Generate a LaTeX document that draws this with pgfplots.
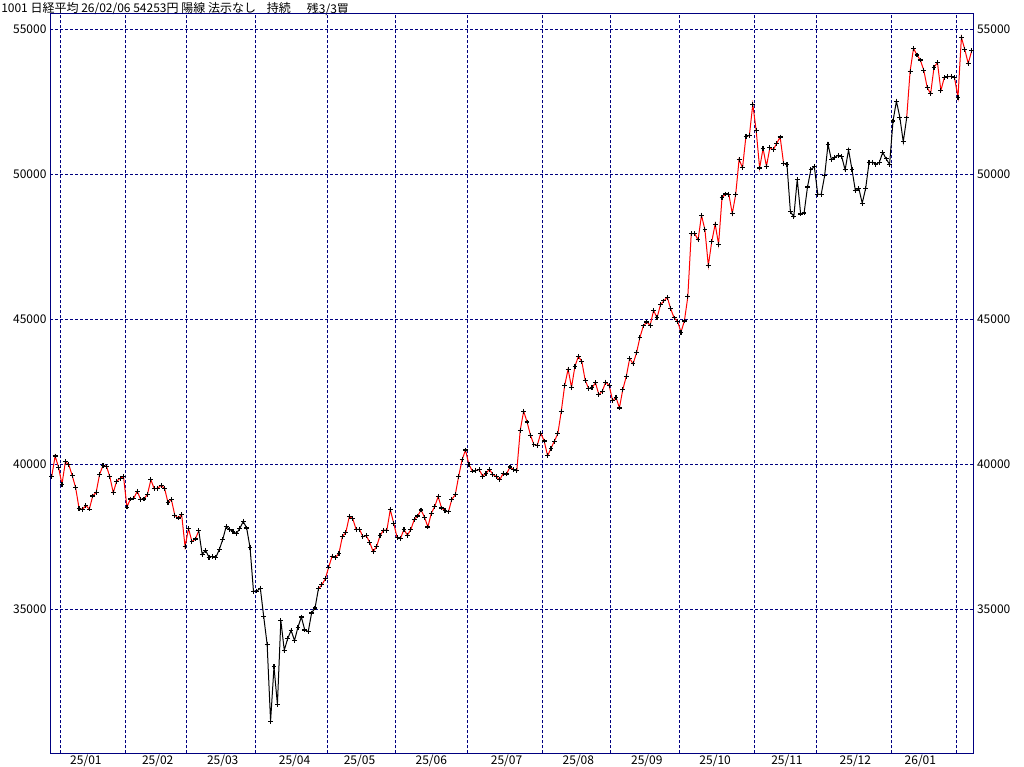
\documentclass[border=0pt]{standalone}
\usepackage{fontspec}
\setmainfont{Noto Sans CJK JP}
\usepackage{pgfplots}
\pgfplotsset{compat=1.18}
\usepackage{pgfplotstable}

\definecolor{gridnavy}{RGB}{0,0,128}
\definecolor{upred}{RGB}{255,0,0}

% trading-day index, close (Nikkei 225, 2024/12/26 - 2026/02/06)
\pgfplotstableread{
idx close
0 39568
1 40281
2 39894
3 39307
4 40083
5 39981
6 39605
7 39190
8 38474
9 38445
10 38573
11 38451
12 38903
13 39028
14 39646
15 39959
16 39932
17 39566
18 39017
19 39415
20 39514
21 39572
22 38520
23 38798
24 38831
25 39067
26 38787
27 38801
28 38964
29 39461
30 39149
31 39174
32 39270
33 39165
34 38678
35 38777
36 38238
37 38142
38 38256
39 37156
40 37785
41 37331
42 37418
43 37705
44 36887
45 37028
46 36793
47 36819
48 36790
49 37053
50 37397
51 37845
52 37752
53 37677
54 37608
55 37781
56 38027
57 37800
58 37120
59 35618
60 35624
61 35726
62 34736
63 33781
64 31137
65 33013
66 31714
67 34609
68 33586
69 33982
70 34268
71 33920
72 34378
73 34730
74 34280
75 34221
76 34869
77 35039
78 35706
79 35840
80 36045
81 36452
82 36831
83 36780
84 36929
85 37503
86 37644
87 38183
88 38128
89 37756
90 37754
91 37499
92 37529
93 37299
94 36986
95 37160
96 37532
97 37724
98 37722
99 38433
100 37965
101 37471
102 37447
103 37747
104 37554
105 37742
106 38089
107 38212
108 38421
109 38173
110 37834
111 38311
112 38537
113 38885
114 38488
115 38403
116 38354
117 38791
118 38942
119 39585
120 40151
121 40487
122 39986
123 39762
124 39786
125 39811
126 39588
127 39689
128 39821
129 39646
130 39570
131 39460
132 39678
133 39663
134 39901
135 39819
136 39775
137 41171
138 41826
139 41456
140 40998
141 40675
142 40655
143 41070
144 40800
145 40291
146 40550
147 40795
148 41059
149 41820
150 42718
151 43275
152 42649
153 43378
154 43714
155 43546
156 42889
157 42610
158 42633
159 42808
160 42394
161 42520
162 42829
163 42718
164 42189
165 42310
166 41939
167 42580
168 43019
169 43644
170 43459
171 43838
172 44373
173 44768
174 44902
175 44790
176 45303
177 45046
178 45494
179 45630
180 45755
181 45355
182 45044
183 44933
184 44551
185 44937
186 45770
187 47945
188 47951
189 47735
190 48580
191 48089
192 46847
193 47673
194 48278
195 47582
196 49186
197 49316
198 49308
199 48642
200 49300
201 50512
202 50219
203 51308
204 51326
205 52411
206 51497
207 50212
208 50884
209 50276
210 50912
211 50843
212 51063
213 51282
214 50377
215 50324
216 48703
217 48538
218 49824
219 48626
220 48660
221 49559
222 50167
223 50254
224 49303
225 49303
226 49940
227 51028
228 50492
229 50582
230 50655
231 50603
232 50149
233 50837
234 50168
235 49430
236 49512
237 49002
238 49507
239 50402
240 50413
241 50344
242 50408
243 50750
244 50527
245 50339
246 51832
247 52518
248 51961
249 51117
250 51940
251 53549
252 54341
253 54110
254 53936
255 53584
256 52991
257 52774
258 53689
259 53847
260 52885
261 53333
262 53358
263 53376
264 53323
265 52655
266 54721
267 54293
268 53818
269 54253
}\nikkei

\pgfplotsset{
  chartbox/.style={
    at={(37.725pt,10.275pt)}, anchor=south west,
    width=692.55pt, height=554.6pt, scale only axis,
    xmin=-0.41, xmax=269.6, ymin=30030, ymax=55530,
    ytick={35000,40000,45000,50000,55000},
    yticklabels={35000,40000,45000,50000,55000},
    major tick length=0pt,
    tick style={draw=none},
    ticklabel style={font=\fontsize{9}{10}\selectfont, inner sep=0pt},
  },
}

\begin{document}
\begin{tikzpicture}
\useasboundingbox (0,0) rectangle (768pt,575.25pt);
\fill[white] (0,0) rectangle (768pt,575.25pt);

\node[anchor=north west, inner sep=0pt, font=\fontsize{9}{10}\selectfont] at (0.75pt,573.3pt) {1001 日経平均 26/02/06 54253円 陽線 法示なし};
\node[anchor=north west, inner sep=0pt, font=\fontsize{9}{10}\selectfont] at (200pt,573.3pt) {持続};
\node[anchor=north west, inner sep=0pt, font=\fontsize{9}{10}\selectfont] at (230pt,573.3pt) {残3/3買};

\begin{axis}[
    chartbox,
    axis line style={draw=gridnavy, line width=0.75pt},
    xtick={10,31,50,71,90,111,133,154,174,194,215,235,254},
    xticklabels={25/01,25/02,25/03,25/04,25/05,25/06,25/07,25/08,25/09,25/10,25/11,25/12,26/01},
    extra x ticks={2.5,21.5,39.5,59.5,80.5,100.5,121.5,143.5,163.5,183.5,205.5,223.5,245.5,264.5},
    extra x tick labels={},
    extra x tick style={grid=major},
    ymajorgrids=true,
    major grid style={draw=gridnavy, line width=0.75pt, dash pattern=on 2.25pt off 1.5pt},
    yticklabel style={xshift=-2.7pt},
    xticklabel style={yshift=-1.4pt},
  ]
  % line colour follows the trend state: red = up, black = otherwise
  \addplot[upred, line width=0.75pt, restrict x to domain=0:43] table[x=idx,y=close] {\nikkei};
  \addplot[black, line width=0.75pt, restrict x to domain=43:78] table[x=idx,y=close] {\nikkei};
  \addplot[upred, line width=0.75pt, restrict x to domain=78:215] table[x=idx,y=close] {\nikkei};
  \addplot[black, line width=0.75pt, restrict x to domain=215:250] table[x=idx,y=close] {\nikkei};
  \addplot[upred, line width=0.75pt, restrict x to domain=250:269] table[x=idx,y=close] {\nikkei};
  \addplot[only marks, mark=+, mark size=1.8pt, mark options={black, line width=0.85pt}] table[x=idx,y=close] {\nikkei};
\end{axis}

% same box again, only for the tick numbers on the right side
\begin{axis}[
    chartbox,
    axis line style={draw=none},
    xtick=\empty,
    yticklabel pos=right,
    yticklabel style={xshift=2.3pt},
  ]
\end{axis}
\end{tikzpicture}
\end{document}
